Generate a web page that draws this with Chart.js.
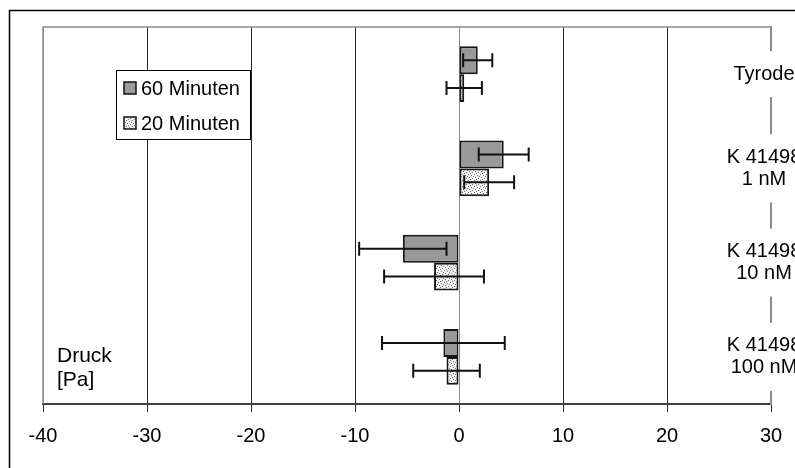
<!DOCTYPE html>
<html>
<head>
<meta charset="utf-8">
<script src="https://cdn.jsdelivr.net/npm/chart.js@4/dist/chart.umd.min.js"></script>
<style>
  html, body { margin: 0; padding: 0; background: #fff; }
  canvas { display: block; }
</style>
</head>
<body>
<canvas id="c" width="795" height="468"></canvas>
<script>
// Pressure change (Pa) after 60 and 20 minutes, mean with error
const categories = [['Tyrode'], ['K 41498', '1 nM'], ['K 41498', '10 nM'], ['K 41498', '100 nM']];
const seriesNames = ['60 Minuten', '20 Minuten'];
const mean60 = [1.8, 4.3, -5.4, -1.5];
const err60  = [1.4, 2.4, 4.2, 5.9];
const mean20 = [0.5, 2.9, -2.4, -1.2];
const err20  = [1.7, 2.4, 4.8, 3.2];
const xTicks = [-40, -30, -20, -10, 0, 10, 20, 30];
const axisTitle = ['Druck', '[Pa]'];

const FONT = "'Liberation Sans', Arial, Helvetica, sans-serif";
Chart.defaults.font.family = FONT;
Chart.defaults.font.size = 20;
Chart.defaults.color = '#000';

const canvas = document.getElementById('c');
const ctx = canvas.getContext('2d');

// light stippled fill for the 20-minute bars
function stipple() {
  const t = document.createElement('canvas');
  t.width = 6; t.height = 6;
  const g = t.getContext('2d');
  g.fillStyle = '#f2f2f2';
  g.fillRect(0, 0, 6, 6);
  g.fillStyle = '#707070';
  [[0, 0], [3, 1], [1, 3], [4, 4], [5, 2], [2, 5]].forEach(([x, y]) => g.fillRect(x, y, 1, 1));
  return ctx.createPattern(t, 'repeat');
}
const dotted = stipple();

const pageFrame = {
  id: 'pageFrame',
  beforeDraw(chart) {
    const c = chart.ctx;
    c.save();
    c.fillStyle = '#fff';
    c.fillRect(0, 0, chart.width, chart.height);
    c.strokeStyle = '#000';
    c.lineWidth = 1.5;
    c.strokeRect(9.5, 10.5, chart.width + 20, chart.height + 20);
    c.restore();
  },
  afterDraw(chart) {
    const a = chart.chartArea, c = chart.ctx;
    c.save();
    c.strokeStyle = '#8a8a8a';
    c.lineWidth = 1.5;
    c.beginPath();
    c.moveTo(a.left, a.bottom);
    c.lineTo(a.left, a.top);
    c.lineTo(a.right, a.top);
    c.stroke();
    c.restore();
  }
};

const errorBars = {
  id: 'errorBars',
  afterDatasetsDraw(chart) {
    const c = chart.ctx, xs = chart.scales.x;
    c.save();
    c.strokeStyle = '#111';
    c.lineWidth = 2;
    chart.data.datasets.forEach((ds, di) => {
      const meta = chart.getDatasetMeta(di);
      meta.data.forEach((bar, i) => {
        const y = bar.y;
        const lo = xs.getPixelForValue(ds.data[i] - ds.errors[i]);
        const hi = xs.getPixelForValue(ds.data[i] + ds.errors[i]);
        c.beginPath();
        c.moveTo(lo, y); c.lineTo(hi, y);
        c.moveTo(lo, y - 7); c.lineTo(lo, y + 7);
        c.moveTo(hi, y - 7); c.lineTo(hi, y + 7);
        c.stroke();
      });
    });
    c.restore();
  }
};

const categoryLabels = {
  id: 'categoryLabels',
  afterDraw(chart) {
    const c = chart.ctx, ys = chart.scales.y, a = chart.chartArea;
    const lineH = 22;
    c.save();
    c.font = '20px ' + FONT;
    c.textAlign = 'center';
    c.textBaseline = 'middle';
    chart.data.labels.forEach((lab, i) => {
      const lines = Array.isArray(lab) ? lab : [lab];
      const cy = ys.getPixelForValue(i);
      const cx = a.right - 7;
      const w = Math.max(...lines.map(s => c.measureText(s).width)) + 6;
      const h = lines.length * lineH + 24;
      c.fillStyle = '#fff';
      c.fillRect(cx - w / 2, cy - h / 2, w, h);
      c.fillStyle = '#000';
      lines.forEach((s, k) => {
        c.fillText(s, cx, cy + (k - (lines.length - 1) / 2) * lineH);
      });
    });
    c.restore();
  }
};

const boxLegend = {
  id: 'boxLegend',
  afterDraw(chart) {
    const c = chart.ctx, a = chart.chartArea;
    const bx = a.left + 73, by = a.top + 43, bw = 134, bh = 69;
    c.save();
    c.fillStyle = '#fff';
    c.fillRect(bx, by, bw, bh);
    c.strokeStyle = '#000';
    c.lineWidth = 1;
    c.strokeRect(bx + 0.5, by + 0.5, bw, bh);
    c.font = '20px ' + FONT;
    c.textAlign = 'left';
    c.textBaseline = 'middle';
    chart.data.datasets.forEach((ds, i) => {
      const cy = by + 18 + i * 35;
      c.fillStyle = ds.backgroundColor;
      c.fillRect(bx + 8, cy - 6, 12, 12);
      c.strokeStyle = '#111';
      c.lineWidth = 1.5;
      c.strokeRect(bx + 8, cy - 6, 12, 12);
      c.fillStyle = '#000';
      c.fillText(ds.label, bx + 25, cy + 1);
    });
    c.restore();
  }
};

const unitTitle = {
  id: 'unitTitle',
  afterDraw(chart) {
    const c = chart.ctx, a = chart.chartArea;
    c.save();
    c.font = '21px ' + FONT;
    c.fillStyle = '#000';
    c.textAlign = 'left';
    c.textBaseline = 'middle';
    c.fillText(axisTitle[0], a.left + 14, a.bottom - 48);
    c.fillText(axisTitle[1], a.left + 14, a.bottom - 24);
    c.restore();
  }
};

new Chart(canvas, {
  type: 'bar',
  data: {
    labels: categories,
    datasets: [
      {
        label: seriesNames[0],
        data: mean60,
        errors: err60,
        backgroundColor: '#999999',
        borderColor: '#161616',
        borderWidth: 2,
        borderSkipped: false
      },
      {
        label: seriesNames[1],
        data: mean20,
        errors: err20,
        backgroundColor: dotted,
        borderColor: '#161616',
        borderWidth: 2,
        borderSkipped: false
      }
    ]
  },
  options: {
    indexAxis: 'y',
    responsive: false,
    animation: false,
    events: [],
    categoryPercentage: 0.594,
    barPercentage: 1,
    layout: { padding: { left: 43, top: 27, right: 0, bottom: 0 } },
    plugins: { legend: { display: false }, tooltip: { enabled: false } },
    scales: {
      x: {
        type: 'linear',
        min: -40,
        max: 30,
        afterBuildTicks: s => { s.ticks = xTicks.map(v => ({ value: v })); },
        afterFit: s => { s.height = 64; },
        grid: {
          color: g => (g.tick && (g.tick.value === 0 || g.tick.value === -40 || g.tick.value === 30)) ? '#8a8a8a' : '#222',
          lineWidth: 1,
          tickColor: '#333',
          tickLength: 8,
          drawTicks: true
        },
        border: { display: true, color: '#404040', width: 2 },
        ticks: { padding: 12, font: { size: 20 }, color: '#000', maxRotation: 0 }
      },
      y: {
        position: 'right',
        afterFit: s => { s.width = 24; },
        grid: { display: false },
        border: { display: true, color: '#8a8a8a', width: 2 },
        ticks: { display: false }
      }
    }
  },
  plugins: [pageFrame, errorBars, categoryLabels, boxLegend, unitTitle]
});
</script>
</body>
</html>
